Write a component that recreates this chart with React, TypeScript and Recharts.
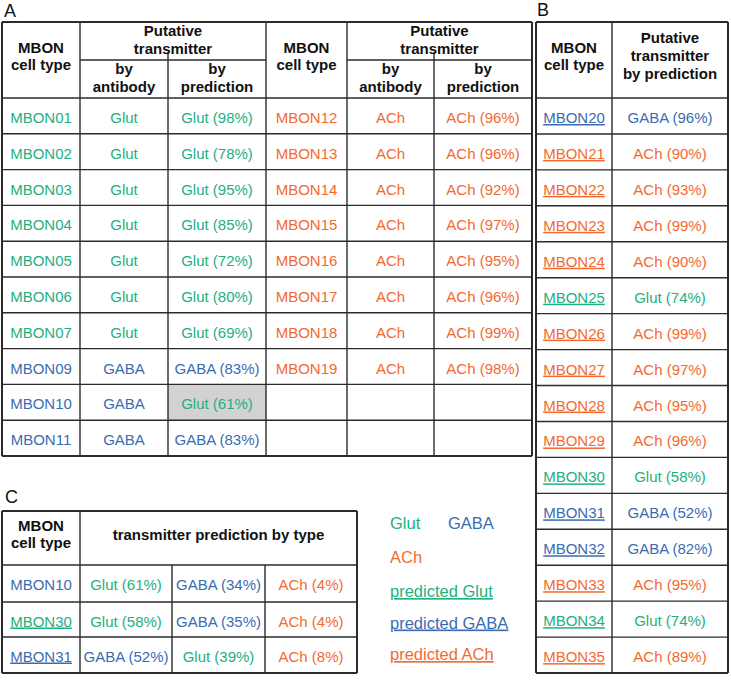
import { ScatterChart, Scatter, XAxis, YAxis, ReferenceLine, ReferenceArea } from 'recharts'

const GREEN = '#22b07f'
const BLUE = '#3a6cb3'
const ORANGE = '#f26a30'
const INK = '#2b2b2b'
const FONT = '"Liberation Sans", Arial, sans-serif'

const colorOf: Record<string, string> = { Glut: GREEN, GABA: BLUE, ACh: ORANGE }

// panel A, left half
const aLeftTypes = ['MBON01', 'MBON02', 'MBON03', 'MBON04', 'MBON05', 'MBON06', 'MBON07', 'MBON09', 'MBON10', 'MBON11']
const aLeftAntibody = ['Glut', 'Glut', 'Glut', 'Glut', 'Glut', 'Glut', 'Glut', 'GABA', 'GABA', 'GABA']
const aLeftPredicted = ['Glut', 'Glut', 'Glut', 'Glut', 'Glut', 'Glut', 'Glut', 'GABA', 'Glut', 'GABA']
const aLeftPercent = [98, 78, 95, 85, 72, 80, 69, 83, 61, 83]

// panel A, right half
const aRightTypes = ['MBON12', 'MBON13', 'MBON14', 'MBON15', 'MBON16', 'MBON17', 'MBON18', 'MBON19']
const aRightAntibody = ['ACh', 'ACh', 'ACh', 'ACh', 'ACh', 'ACh', 'ACh', 'ACh']
const aRightPredicted = ['ACh', 'ACh', 'ACh', 'ACh', 'ACh', 'ACh', 'ACh', 'ACh']
const aRightPercent = [96, 96, 92, 97, 95, 96, 99, 98]

// panel B
const bTypes = ['MBON20', 'MBON21', 'MBON22', 'MBON23', 'MBON24', 'MBON25', 'MBON26', 'MBON27',
  'MBON28', 'MBON29', 'MBON30', 'MBON31', 'MBON32', 'MBON33', 'MBON34', 'MBON35']
const bPredicted = ['GABA', 'ACh', 'ACh', 'ACh', 'ACh', 'Glut', 'ACh', 'ACh',
  'ACh', 'ACh', 'Glut', 'GABA', 'GABA', 'ACh', 'Glut', 'ACh']
const bPercent = [96, 90, 93, 99, 90, 74, 99, 97, 95, 96, 58, 52, 82, 95, 74, 89]

// panel C
const cTypes = ['MBON10', 'MBON30', 'MBON31']
const cTypeTransmitter = ['GABA', 'Glut', 'GABA']
const cTypeUnderlined = [false, true, true]
const cPredicted = [
  ['Glut', 'GABA', 'ACh'],
  ['Glut', 'GABA', 'ACh'],
  ['GABA', 'Glut', 'ACh'],
]
const cPercent = [
  [61, 34, 4],
  [58, 35, 4],
  [52, 39, 8],
]

// legend
const legendPlain = ['Glut', 'GABA', 'ACh']
const legendPredicted = ['Glut', 'GABA', 'ACh']

// layout
const W = 731
const H = 680
const A_COLS = [2, 80, 168, 266, 347, 434, 532]
const A_TOP = 22
const A_SUB = 60
const A_HEAD = 98
const A_ROW = 35.8
const A_ROWS = 10
const A_BOTTOM = A_HEAD + A_ROW * A_ROWS
const B_COLS = [536, 612, 728]
const B_ROW = 35.94
const B_BOTTOM = A_HEAD + B_ROW * bTypes.length
const C_COLS = [2, 80, 172, 265, 357]
const C_TOP = 511
const C_HEAD = 565
const C_ROW_LINES = [565, 602, 637, 673]
const BASE = 25

type Mark = {
  x: number
  y: number
  text: string
  color: string
  bold?: boolean
  underline?: boolean
  size?: number
  anchor?: 'start' | 'middle'
}

type Seg = { x1: number; y1: number; x2: number; y2: number; w: number }

const mid = (a: number, b: number) => (a + b) / 2

const marks: Mark[] = []
const segs: Seg[] = []

const bold = (x: number, y: number, text: string) =>
  marks.push({ x, y, text, color: '#111', bold: true })

// ---- panel A ----
for (let h = 0; h < 2; h++) {
  const c = A_COLS.slice(h * 3, h * 3 + 4)
  bold(mid(c[0], c[1]), 53, 'MBON')
  bold(mid(c[0], c[1]), 70, 'cell type')
  bold(mid(c[1], c[3]), 36, 'Putative')
  bold(mid(c[1], c[3]), 54, 'transmitter')
  bold(mid(c[1], c[2]), 74, 'by')
  bold(mid(c[1], c[2]), 92, 'antibody')
  bold(mid(c[2], c[3]), 74, 'by')
  bold(mid(c[2], c[3]), 92, 'prediction')

  const types = h === 0 ? aLeftTypes : aRightTypes
  const ab = h === 0 ? aLeftAntibody : aRightAntibody
  const pr = h === 0 ? aLeftPredicted : aRightPredicted
  const pc = h === 0 ? aLeftPercent : aRightPercent
  types.forEach((t, i) => {
    const y = A_HEAD + i * A_ROW + BASE
    marks.push({ x: mid(c[0], c[1]), y, text: t, color: colorOf[ab[i]] })
    marks.push({ x: mid(c[1], c[2]), y, text: ab[i], color: colorOf[ab[i]] })
    marks.push({ x: mid(c[2], c[3]), y, text: `${pr[i]} (${pc[i]}%)`, color: colorOf[pr[i]] })
  })
}

// outer and inner rules of A
segs.push({ x1: A_COLS[0], y1: A_TOP, x2: A_COLS[6], y2: A_TOP, w: 2 })
segs.push({ x1: A_COLS[0], y1: A_BOTTOM, x2: A_COLS[6], y2: A_BOTTOM, w: 2 })
segs.push({ x1: A_COLS[0], y1: A_TOP, x2: A_COLS[0], y2: A_BOTTOM, w: 2 })
segs.push({ x1: A_COLS[6], y1: A_TOP, x2: A_COLS[6], y2: A_BOTTOM, w: 2 })
;[1, 3, 4].forEach((k) => segs.push({ x1: A_COLS[k], y1: A_TOP, x2: A_COLS[k], y2: A_BOTTOM, w: 1.4 }))
;[2, 5].forEach((k) => segs.push({ x1: A_COLS[k], y1: 52, x2: A_COLS[k], y2: A_BOTTOM, w: 1.4 }))
segs.push({ x1: A_COLS[1], y1: A_SUB, x2: A_COLS[3], y2: A_SUB, w: 1.4 })
segs.push({ x1: A_COLS[4], y1: A_SUB, x2: A_COLS[6], y2: A_SUB, w: 1.4 })
for (let i = 0; i < A_ROWS; i++) {
  const y = A_HEAD + i * A_ROW
  segs.push({ x1: A_COLS[0], y1: y, x2: A_COLS[6], y2: y, w: 1.4 })
}

// ---- panel B ----
bold(mid(B_COLS[0], B_COLS[1]), 53, 'MBON')
bold(mid(B_COLS[0], B_COLS[1]), 70, 'cell type')
bold(mid(B_COLS[1], B_COLS[2]), 43, 'Putative')
bold(mid(B_COLS[1], B_COLS[2]), 61, 'transmitter')
bold(mid(B_COLS[1], B_COLS[2]), 79, 'by prediction')
bTypes.forEach((t, i) => {
  const y = A_HEAD + i * B_ROW + BASE
  const col = colorOf[bPredicted[i]]
  marks.push({ x: mid(B_COLS[0], B_COLS[1]), y, text: t, color: col, underline: true })
  marks.push({ x: mid(B_COLS[1], B_COLS[2]), y, text: `${bPredicted[i]} (${bPercent[i]}%)`, color: col })
})
segs.push({ x1: B_COLS[0], y1: A_TOP, x2: B_COLS[2], y2: A_TOP, w: 2 })
segs.push({ x1: B_COLS[0], y1: B_BOTTOM, x2: B_COLS[2], y2: B_BOTTOM, w: 2 })
segs.push({ x1: B_COLS[0], y1: A_TOP, x2: B_COLS[0], y2: B_BOTTOM, w: 2 })
segs.push({ x1: B_COLS[2], y1: A_TOP, x2: B_COLS[2], y2: B_BOTTOM, w: 2 })
segs.push({ x1: B_COLS[1], y1: A_TOP, x2: B_COLS[1], y2: B_BOTTOM, w: 1.4 })
for (let i = 0; i < bTypes.length; i++) {
  const y = A_HEAD + i * B_ROW
  segs.push({ x1: B_COLS[0], y1: y, x2: B_COLS[2], y2: y, w: 1.4 })
}

// ---- panel C ----
bold(mid(C_COLS[0], C_COLS[1]), 531, 'MBON')
bold(mid(C_COLS[0], C_COLS[1]), 548, 'cell type')
bold(mid(C_COLS[1], C_COLS[4]), 540, 'transmitter prediction by type')
cTypes.forEach((t, i) => {
  const y = C_ROW_LINES[i] + BASE - 0.5
  marks.push({ x: mid(C_COLS[0], C_COLS[1]), y, text: t, color: colorOf[cTypeTransmitter[i]], underline: cTypeUnderlined[i] })
  cPredicted[i].forEach((p, j) => {
    marks.push({ x: mid(C_COLS[j + 1], C_COLS[j + 2]), y, text: `${p} (${cPercent[i][j]}%)`, color: colorOf[p] })
  })
})
const C_BOTTOM = C_ROW_LINES[C_ROW_LINES.length - 1]
segs.push({ x1: C_COLS[0], y1: C_TOP, x2: C_COLS[4], y2: C_TOP, w: 2 })
segs.push({ x1: C_COLS[0], y1: C_BOTTOM, x2: C_COLS[4], y2: C_BOTTOM, w: 2 })
segs.push({ x1: C_COLS[0], y1: C_TOP, x2: C_COLS[0], y2: C_BOTTOM, w: 2 })
segs.push({ x1: C_COLS[4], y1: C_TOP, x2: C_COLS[4], y2: C_BOTTOM, w: 2 })
segs.push({ x1: C_COLS[1], y1: C_TOP, x2: C_COLS[1], y2: C_BOTTOM, w: 1.4 })
;[2, 3].forEach((k) => segs.push({ x1: C_COLS[k], y1: C_HEAD, x2: C_COLS[k], y2: C_BOTTOM, w: 1.4 }))
C_ROW_LINES.slice(0, 3).forEach((y) => segs.push({ x1: C_COLS[0], y1: y, x2: C_COLS[4], y2: y, w: 1.4 }))

// ---- legend ----
const LEG = 16.5
marks.push({ x: 390, y: 529, text: legendPlain[0], color: colorOf[legendPlain[0]], size: LEG, anchor: 'start' })
marks.push({ x: 448, y: 529, text: legendPlain[1], color: colorOf[legendPlain[1]], size: LEG, anchor: 'start' })
marks.push({ x: 390, y: 563, text: legendPlain[2], color: colorOf[legendPlain[2]], size: LEG, anchor: 'start' })
legendPredicted.forEach((p, i) => {
  marks.push({ x: 390, y: 597 + i * 31.5, text: `predicted ${p}`, color: colorOf[p], size: LEG, anchor: 'start', underline: true })
})

// ---- panel letters ----
marks.push({ x: 4, y: 17, text: 'A', color: '#111', size: 18, anchor: 'start' })
marks.push({ x: 537, y: 16, text: 'B', color: '#111', size: 18, anchor: 'start' })
marks.push({ x: 5, y: 503, text: 'C', color: '#111', size: 18, anchor: 'start' })

const TextMark = (props: any) => {
  const { cx, cy, payload } = props
  const m: Mark = payload
  return (
    <text
      x={cx}
      y={cy}
      fill={m.color}
      fontFamily={FONT}
      fontSize={m.size ?? 15}
      fontWeight={m.bold ? 'bold' : 'normal'}
      textAnchor={m.anchor ?? 'middle'}
      style={m.underline ? { textDecoration: 'underline' } : undefined}
    >
      {m.text}
    </text>
  )
}

export default function App() {
  return (
    <div style={{ width: W, height: H, background: '#fff' }}>
      <style>{'body{margin:0}'}</style>
      <ScatterChart width={W} height={H} margin={{ top: 0, right: 0, bottom: 0, left: 0 }}>
        <XAxis type="number" dataKey="x" domain={[0, W]} hide allowDataOverflow />
        <YAxis type="number" dataKey="y" domain={[0, H]} reversed hide allowDataOverflow />
        <ReferenceArea
          x1={A_COLS[2]}
          x2={A_COLS[3]}
          y1={A_HEAD + 8 * A_ROW}
          y2={A_HEAD + 9 * A_ROW}
          fill="#d2d2d2"
          fillOpacity={1}
          stroke="none"
        />
        {segs.map((s, i) => (
          <ReferenceLine
            key={i}
            segment={[{ x: s.x1, y: s.y1 }, { x: s.x2, y: s.y2 }]}
            stroke={INK}
            strokeWidth={s.w}
            ifOverflow="visible"
          />
        ))}
        <Scatter data={marks} shape={TextMark} isAnimationActive={false} />
      </ScatterChart>
    </div>
  )
}
